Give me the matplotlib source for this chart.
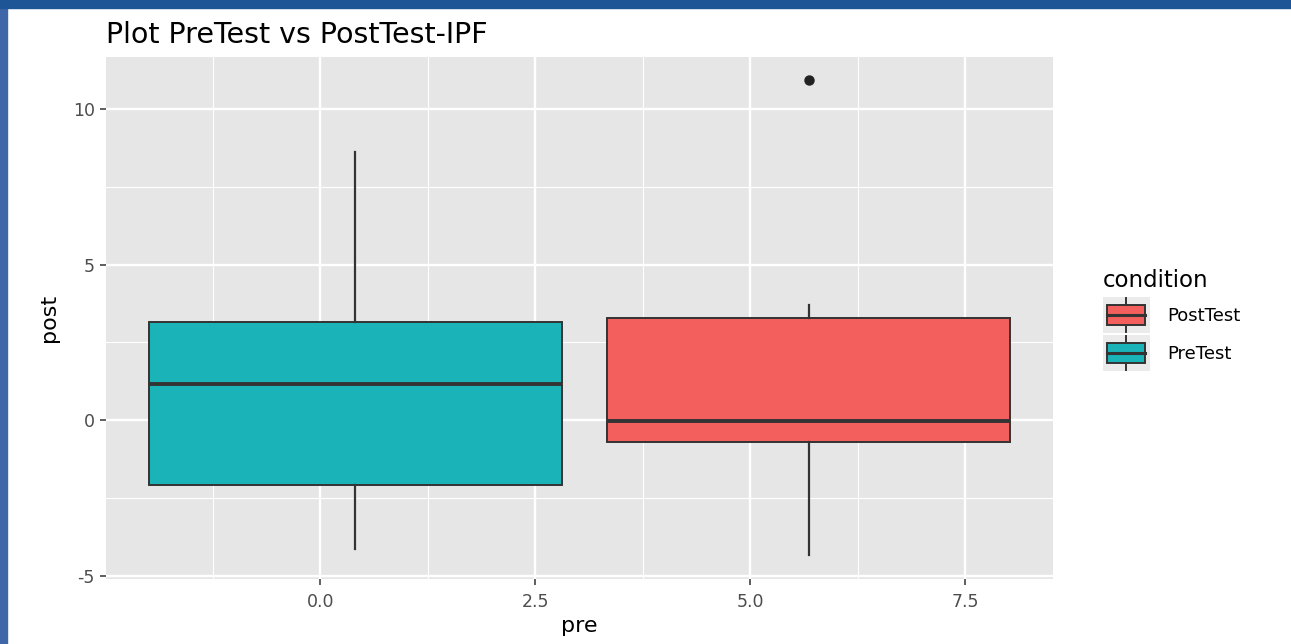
import numpy as np
import matplotlib.pyplot as plt
from matplotlib.patches import Rectangle
from matplotlib.lines import Line2D
from matplotlib.legend_handler import HandlerBase

plt.rcParams['font.family'] = ['DejaVu Sans']

# values
conditions = ["PreTest", "PostTest"]
centers = [0.41, 5.68]
box_widths = [4.81, 4.68]
whislo = [-4.15, -4.34]
q1 = [-2.09, -0.71]
med = [1.16, -0.03]
q3 = [3.15, 3.28]
whishi = [8.62, 3.70]
fliers = [[], [10.93]]
fills = ["#19b3b8", "#f35f5c"]

edge = "#333333"

fig = plt.figure(figsize=(12.91, 6.44), dpi=100)
# blue frame of the screenshot
fig.patches.append(Rectangle((0, 0), 7/1291, 1, transform=fig.transFigure, color="#3f66a6", zorder=-5))
fig.patches.append(Rectangle((0, 1-8/644), 1, 8/644, transform=fig.transFigure, color="#1d5596", zorder=-5))

ax = fig.add_axes([0.0821, 0.1009, 0.7336, 0.8106])
ax.set_facecolor("#e6e6e6")

stats = []
for i in range(len(conditions)):
    stats.append(dict(label=conditions[i], whislo=whislo[i], q1=q1[i], med=med[i],
                      q3=q3[i], whishi=whishi[i], fliers=fliers[i]))

bp = ax.bxp(stats, positions=centers, widths=box_widths, patch_artist=True,
            showcaps=False, manage_ticks=False,
            boxprops=dict(edgecolor=edge, linewidth=1.4),
            medianprops=dict(color=edge, linewidth=2.8),
            whiskerprops=dict(color=edge, linewidth=1.6),
            flierprops=dict(marker="o", markerfacecolor="#222222", markeredgecolor="#222222", markersize=6.5))
for patch, c in zip(bp["boxes"], fills):
    patch.set_facecolor(c)
for k in bp:
    for a in bp[k]:
        a.set_zorder(3)

ax.set_xlim(-2.49, 8.52)
ax.set_ylim(-5.1, 11.67)
ax.set_xticks([0.0, 2.5, 5.0, 7.5])
ax.set_xticklabels(["0.0", "2.5", "5.0", "7.5"])
ax.set_yticks([-5, 0, 5, 10])
ax.set_yticklabels(["-5", "0", "5", "10"])
ax.set_xticks([-1.25, 1.25, 3.75, 6.25], minor=True)
ax.set_yticks([-2.5, 2.5, 7.5], minor=True)
ax.grid(which="major", color="white", linewidth=1.7, zorder=0)
ax.grid(which="minor", color="white", linewidth=0.8, zorder=0)
ax.set_axisbelow(True)
ax.tick_params(which="major", length=4, width=1.1, color="#333333", labelsize=12.5,
               labelcolor="#4d4d4d", pad=4)
ax.tick_params(axis="x", which="major", pad=6)
ax.tick_params(which="minor", length=0)
for s in ax.spines.values():
    s.set_visible(False)

ax.set_xlabel("pre", fontsize=16, labelpad=4)
ax.set_ylabel("post", fontsize=16, labelpad=10)
ax.set_title("Plot PreTest vs PostTest-IPF", fontsize=20.5, loc="left", pad=10)


class BoxKey(HandlerBase):
    def __init__(self, color):
        super().__init__()
        self.color = color

    def create_artists(self, legend, orig, xd, yd, w, h, fs, trans):
        x0, y0 = -xd, -yd
        bg = Rectangle((x0, y0), w, h, facecolor="#ebebeb", edgecolor="none", transform=trans)
        bx = Rectangle((x0 + 0.09*w, y0 + 0.22*h), 0.82*w, 0.56*h, facecolor=self.color,
                       edgecolor=edge, linewidth=1.4, transform=trans)
        mid = Line2D([x0 + 0.09*w, x0 + 0.91*w], [y0 + h/2, y0 + h/2], color=edge, linewidth=2.2, transform=trans)
        wt = Line2D([x0 + w/2, x0 + w/2], [y0 + 0.78*h, y0 + 0.97*h], color=edge, linewidth=1.4, transform=trans)
        wb = Line2D([x0 + w/2, x0 + w/2], [y0 + 0.03*h, y0 + 0.22*h], color=edge, linewidth=1.4, transform=trans)
        return [bg, bx, mid, wt, wb]


h_post = Rectangle((0, 0), 1, 1)
h_pre = Rectangle((0, 0), 1, 1)
leg = fig.legend([h_post, h_pre], ["PostTest", "PreTest"], title="condition",
                 handler_map={h_post: BoxKey(fills[1]), h_pre: BoxKey(fills[0])},
                 loc="upper left", bbox_to_anchor=(1090/1291, 1-256/644),
                 frameon=False, fontsize=13, title_fontsize=16.5,
                 handlelength=2.6, handleheight=2.7, labelspacing=0.1, handletextpad=1.0,
                 borderpad=0.2)
leg._legend_box.align = "left"
leg._legend_box.sep = 4

fig.savefig("out.png", dpi=100)
